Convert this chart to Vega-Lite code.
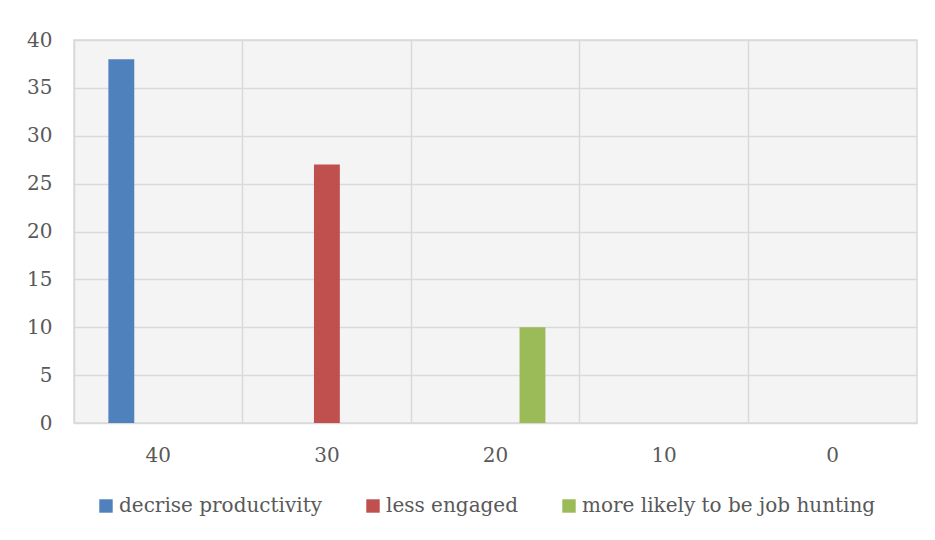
{
  "$schema": "https://vega.github.io/schema/vega-lite/v6.json",
  "width": 843,
  "height": 383,
  "autosize": {"type": "none"},
  "padding": {"left": 74, "top": 40, "right": 18, "bottom": 117},
  "background": "#ffffff",
  "config": {
    "font": "DejaVu Serif",
    "view": {"fill": "#f4f4f4", "stroke": "#d9d9d9", "strokeWidth": 1.5},
    "axis": {
      "labelFont": "DejaVu Serif",
      "labelFontSize": 20,
      "labelColor": "#595959",
      "domain": false,
      "ticks": false,
      "title": null,
      "gridColor": "#d9d9d9",
      "gridWidth": 1.5,
      "gridOpacity": 1
    },
    "legend": {
      "labelFont": "DejaVu Serif",
      "labelFontSize": 20,
      "labelColor": "#595959",
      "labelLimit": 400
    }
  },
  "data": {
    "values": [
      {"category": "40", "series": "decrise productivity", "value": 38},
      {"category": "40", "series": "less engaged", "value": 0},
      {"category": "40", "series": "more likely to be job hunting", "value": 0},
      {"category": "30", "series": "decrise productivity", "value": 0},
      {"category": "30", "series": "less engaged", "value": 27},
      {"category": "30", "series": "more likely to be job hunting", "value": 0},
      {"category": "20", "series": "decrise productivity", "value": 0},
      {"category": "20", "series": "less engaged", "value": 0},
      {"category": "20", "series": "more likely to be job hunting", "value": 10},
      {"category": "10", "series": "decrise productivity", "value": 0},
      {"category": "10", "series": "less engaged", "value": 0},
      {"category": "10", "series": "more likely to be job hunting", "value": 0},
      {"category": "0", "series": "decrise productivity", "value": 0},
      {"category": "0", "series": "less engaged", "value": 0},
      {"category": "0", "series": "more likely to be job hunting", "value": 0}
    ]
  },
  "layer": [
    {
      "mark": {"type": "bar"},
      "encoding": {
        "x": {
          "field": "category",
          "type": "nominal",
          "sort": ["40", "30", "20", "10", "0"],
          "scale": {"paddingInner": 0, "paddingOuter": 0},
          "axis": {"labelAngle": 0, "grid": false, "labelBaseline": "middle", "labelPadding": 32}
        },
        "xOffset": {
          "field": "series",
          "type": "nominal",
          "sort": ["decrise productivity", "less engaged", "more likely to be job hunting"],
          "scale": {"paddingInner": 0.3, "paddingOuter": 0.93}
        },
        "y": {
          "field": "value",
          "type": "quantitative",
          "scale": {"domain": [0, 40], "nice": false},
          "axis": {"values": [0, 5, 10, 15, 20, 25, 30, 35, 40], "labelPadding": 22, "grid": true}
        },
        "color": {
          "field": "series",
          "type": "nominal",
          "sort": ["decrise productivity", "less engaged", "more likely to be job hunting"],
          "scale": {
            "domain": ["decrise productivity", "less engaged", "more likely to be job hunting"],
            "range": ["#4f81bd", "#c0504d", "#9bbb59"]
          },
          "legend": {
            "title": null,
            "orient": "none",
            "direction": "horizontal",
            "legendX": 22,
            "legendY": 456,
            "symbolType": "square",
            "symbolSize": 180,
            "symbolStrokeWidth": 0,
            "labelOffset": 3,
            "columnPadding": 40
          }
        }
      }
    },
    {
      "mark": {"type": "tick", "opacity": 0},
      "encoding": {
        "x": {
          "field": "category",
          "type": "nominal",
          "sort": ["40", "30", "20", "10", "0"],
          "axis": {"orient": "top", "labels": false, "grid": true, "bandPosition": 0}
        }
      }
    }
  ],
  "resolve": {"axis": {"x": "independent"}}
}
